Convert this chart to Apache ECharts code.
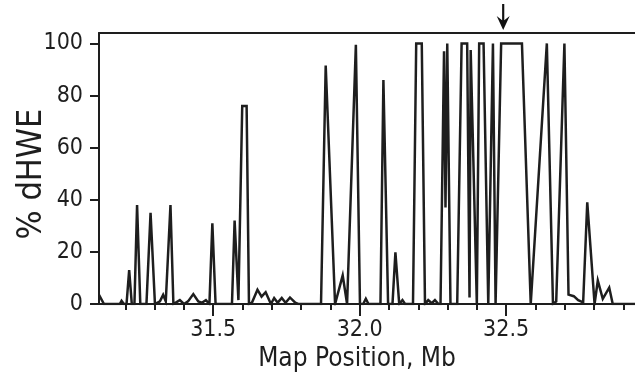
<!DOCTYPE html>
<html><head><meta charset="utf-8">
<script src="https://cdn.jsdelivr.net/npm/echarts@6/dist/echarts.min.js"></script>
<style>html,body{margin:0;padding:0;background:#fff}#c{width:635px;height:377px}</style>
</head><body><div id="c"></div>
<script>
const positions = [31.110,31.127,31.181,31.187,31.195,31.204,31.213,31.222,31.231,31.240,31.251,31.272,31.286,31.301,31.318,31.329,31.338,31.354,31.364,31.386,31.400,31.414,31.432,31.449,31.461,31.475,31.487,31.497,31.508,31.564,31.573,31.586,31.599,31.614,31.622,31.632,31.651,31.665,31.679,31.697,31.708,31.720,31.734,31.747,31.762,31.780,31.790,31.868,31.884,31.916,31.942,31.957,31.987,32.001,32.012,32.021,32.030,32.071,32.081,32.097,32.112,32.122,32.135,32.146,32.155,32.182,32.193,32.212,32.223,32.234,32.246,32.257,32.269,32.276,32.288,32.293,32.299,32.310,32.333,32.348,32.367,32.375,32.379,32.400,32.408,32.423,32.439,32.455,32.464,32.483,32.554,32.584,32.639,32.660,32.671,32.699,32.713,32.731,32.746,32.763,32.777,32.802,32.813,32.830,32.852,32.864,32.940];
const dhwe = [3.5,0,0,1.2,0,0,13,0,0,38,0,0,35,0,1,3.5,1,38,0,1.5,0,1,3.8,1,0.5,1.5,0,31,0,0,32,1.5,76,76,0,0.5,5.5,2.8,4.5,0,2.3,0.5,2.3,0.5,2.5,0.5,0,0,91.5,0,11,0,99.5,0,0,2,0,0,86,0,0,19.8,0,1.5,0,0,100,100,0,1.5,0.3,1.5,0,0,97,37,100,0,0,100,100,2.5,97.5,0,100,100,0,100,0,100,100,0,100,0,1,100,3.6,3,1.5,0.6,39,0,9,2,6.3,0,0];
const majorTicks = [31.5, 32.0, 32.5];
const minorTicks = [31.2,31.3,31.4,31.5,31.6,31.7,31.8,31.9,32.0,32.1,32.2,32.3,32.4,32.5,32.6,32.7,32.8,32.9];
const yTicks = [0, 20, 40, 60, 80, 100];
const arrowAt = [32.49];

const FONT = "'DejaVu Sans Condensed', 'Liberation Sans', Arial, sans-serif";
const INK = '#1e1e1e';
const data = positions.map((p, i) => [p, dhwe[i]]);
const XMIN = 31.11, XMAX = 32.94, YMIN = 0, YMAX = 104;

const chart = echarts.init(document.getElementById('c'), null, {renderer: 'canvas'});
chart.setOption({
  animation: false,
  backgroundColor: '#fff',
  grid: {left: 99, right: 0, top: 33, bottom: 73, containLabel: false, outerBoundsMode: 'none'},
  xAxis: [
    {
      type: 'value', min: XMIN, max: XMAX, position: 'bottom',
      name: 'Map Position, Mb', nameLocation: 'middle', nameGap: 42, nameMoveOverlap: false,
      nameTextStyle: {fontFamily: FONT, fontSize: 26, color: INK, padding: [0, 20, 0, 0]},
      axisLine: {show: true, onZero: false, lineStyle: {color: INK, width: 2}},
      axisTick: {show: true, customValues: majorTicks, length: 12, lineStyle: {color: INK, width: 2}},
      axisLabel: {customValues: majorTicks, formatter: v => v.toFixed(1), fontFamily: FONT, fontSize: 23, color: INK, margin: 15},
      splitLine: {show: false}
    },
    {
      type: 'value', min: XMIN, max: XMAX, position: 'bottom',
      axisLine: {show: false},
      axisTick: {show: true, customValues: minorTicks, length: 6, lineStyle: {color: INK, width: 2}},
      axisLabel: {show: false},
      splitLine: {show: false}
    },
    {
      type: 'value', min: XMIN, max: XMAX, position: 'top',
      axisLine: {show: true, onZero: false, lineStyle: {color: INK, width: 2}},
      axisTick: {show: false}, axisLabel: {show: false}, splitLine: {show: false}
    }
  ],
  yAxis: {
    type: 'value', min: YMIN, max: YMAX,
    name: '% dHWE', nameLocation: 'middle', nameGap: 50, nameRotate: 90, nameMoveOverlap: false,
    nameTextStyle: {fontFamily: FONT, fontSize: 34, color: INK, padding: [0, 11, 0, 0]},
    axisLine: {show: true, onZero: false, lineStyle: {color: INK, width: 2}},
    axisTick: {show: true, customValues: yTicks, length: 9, lineStyle: {color: INK, width: 2}},
    axisLabel: {customValues: yTicks, fontFamily: FONT, fontSize: 23, color: INK, margin: 16},
    splitLine: {show: false}
  },
  series: [{
    type: 'line', xAxisIndex: 0, data: data, showSymbol: false, symbol: 'none',
    lineStyle: {color: INK, width: 2.5, join: 'miter'},
    z: 5,
    markPoint: {
      silent: true,
      data: [{
        coord: [arrowAt[0], YMAX],
        symbol: 'path://M5,0 L7,0 L7,15 L12,11 L6,24 L0,11 L5,15 Z',
        symbolSize: [13, 26], symbolOffset: [0, -16],
        itemStyle: {color: '#111'}, label: {show: false}
      }]
    }
  }]
});
</script>
</body></html>
